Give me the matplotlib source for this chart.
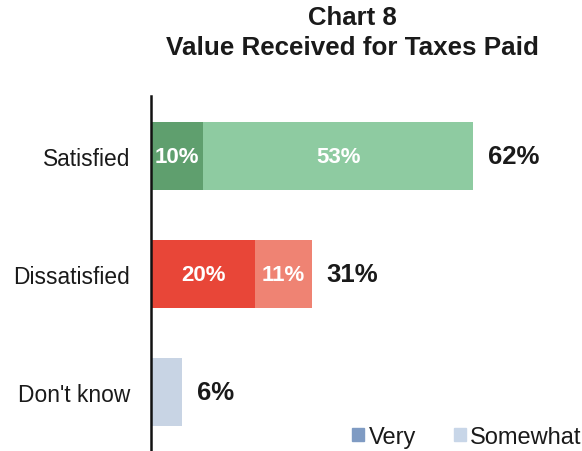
import matplotlib.pyplot as plt
from matplotlib.patches import Patch

# ---------------------------------------------
# DATA
# ---------------------------------------------

categories = ["Satisfied", "Dissatisfied", "Don't know"]
very = [10, 20, 0]
somewhat = [53, 11, 6]
totals = [62, 31, 6]

very_colors = ["#5f9f6e", "#e84638"]
somewhat_colors = ["#8ecba1", "#ef8373", "#c8d4e4"]

plt.rcParams["font.family"] = ["Liberation Sans", "DejaVu Sans"]

fig = plt.figure(figsize=(5.82, 4.52), dpi=100)
ax = fig.add_axes([151 / 582, 0.0, 1 - 151 / 582, (452 - 97) / 452])

y = list(range(len(categories)))
h = 0.58

for i in y:
    # somewhat segment fills up to the rounded total
    rest = totals[i] - very[i]
    if very[i] > 0:
        ax.barh(i, very[i], height=h, color=very_colors[i])
        ax.text(very[i] / 2, i, f"{very[i]}%", ha="center", va="center",
                color="white", fontsize=16, fontweight="bold")
    ax.barh(i, rest, left=very[i], height=h, color=somewhat_colors[i])
    if very[i] > 0:
        ax.text(very[i] + rest / 2, i, f"{somewhat[i]}%", ha="center",
                va="center", color="white", fontsize=16, fontweight="bold")
    ax.annotate(f"{totals[i]}%", xy=(totals[i], i),
                xytext=(10.5, 0), textcoords="offset points",
                ha="left", va="center", fontsize=18.5, fontweight="bold",
                color="#1a1a1a")

ax.set_xlim(0, (582 - 151) / 5.2)
ax.set_ylim(2.5, -0.51)
ax.set_yticks(y)
ax.set_yticklabels(categories, fontsize=16.4, color="#1a1a1a")
ax.tick_params(axis="y", length=0, pad=15)
ax.set_xticks([])
for s in ["top", "right", "bottom"]:
    ax.spines[s].set_visible(False)
ax.spines["left"].set_linewidth(1.8)
ax.spines["left"].set_color("#111111")

fig.text(352 / 582, 1 - 18 / 452, "Chart 8", ha="center", va="center",
         fontsize=18.5, fontweight="bold", color="#1a1a1a")
fig.text(352 / 582, 1 - 48 / 452, "Value Received for Taxes Paid",
         ha="center", va="center", fontsize=18.7, fontweight="bold",
         color="#1a1a1a")

handles = [Patch(color="#7f9bc3", label="Very"),
           Patch(color="#c8d6e8", label="Somewhat")]
fig.legend(handles=handles, loc="center right",
           bbox_to_anchor=(1.024, 1 - 438 / 452), ncol=2, frameon=False,
           fontsize=17, handlelength=0.5, handleheight=0.5,
           handletextpad=0.2, columnspacing=1.6, borderpad=0.1,
           labelcolor="#1a1a1a")

fig.savefig("out.png", dpi=100)
